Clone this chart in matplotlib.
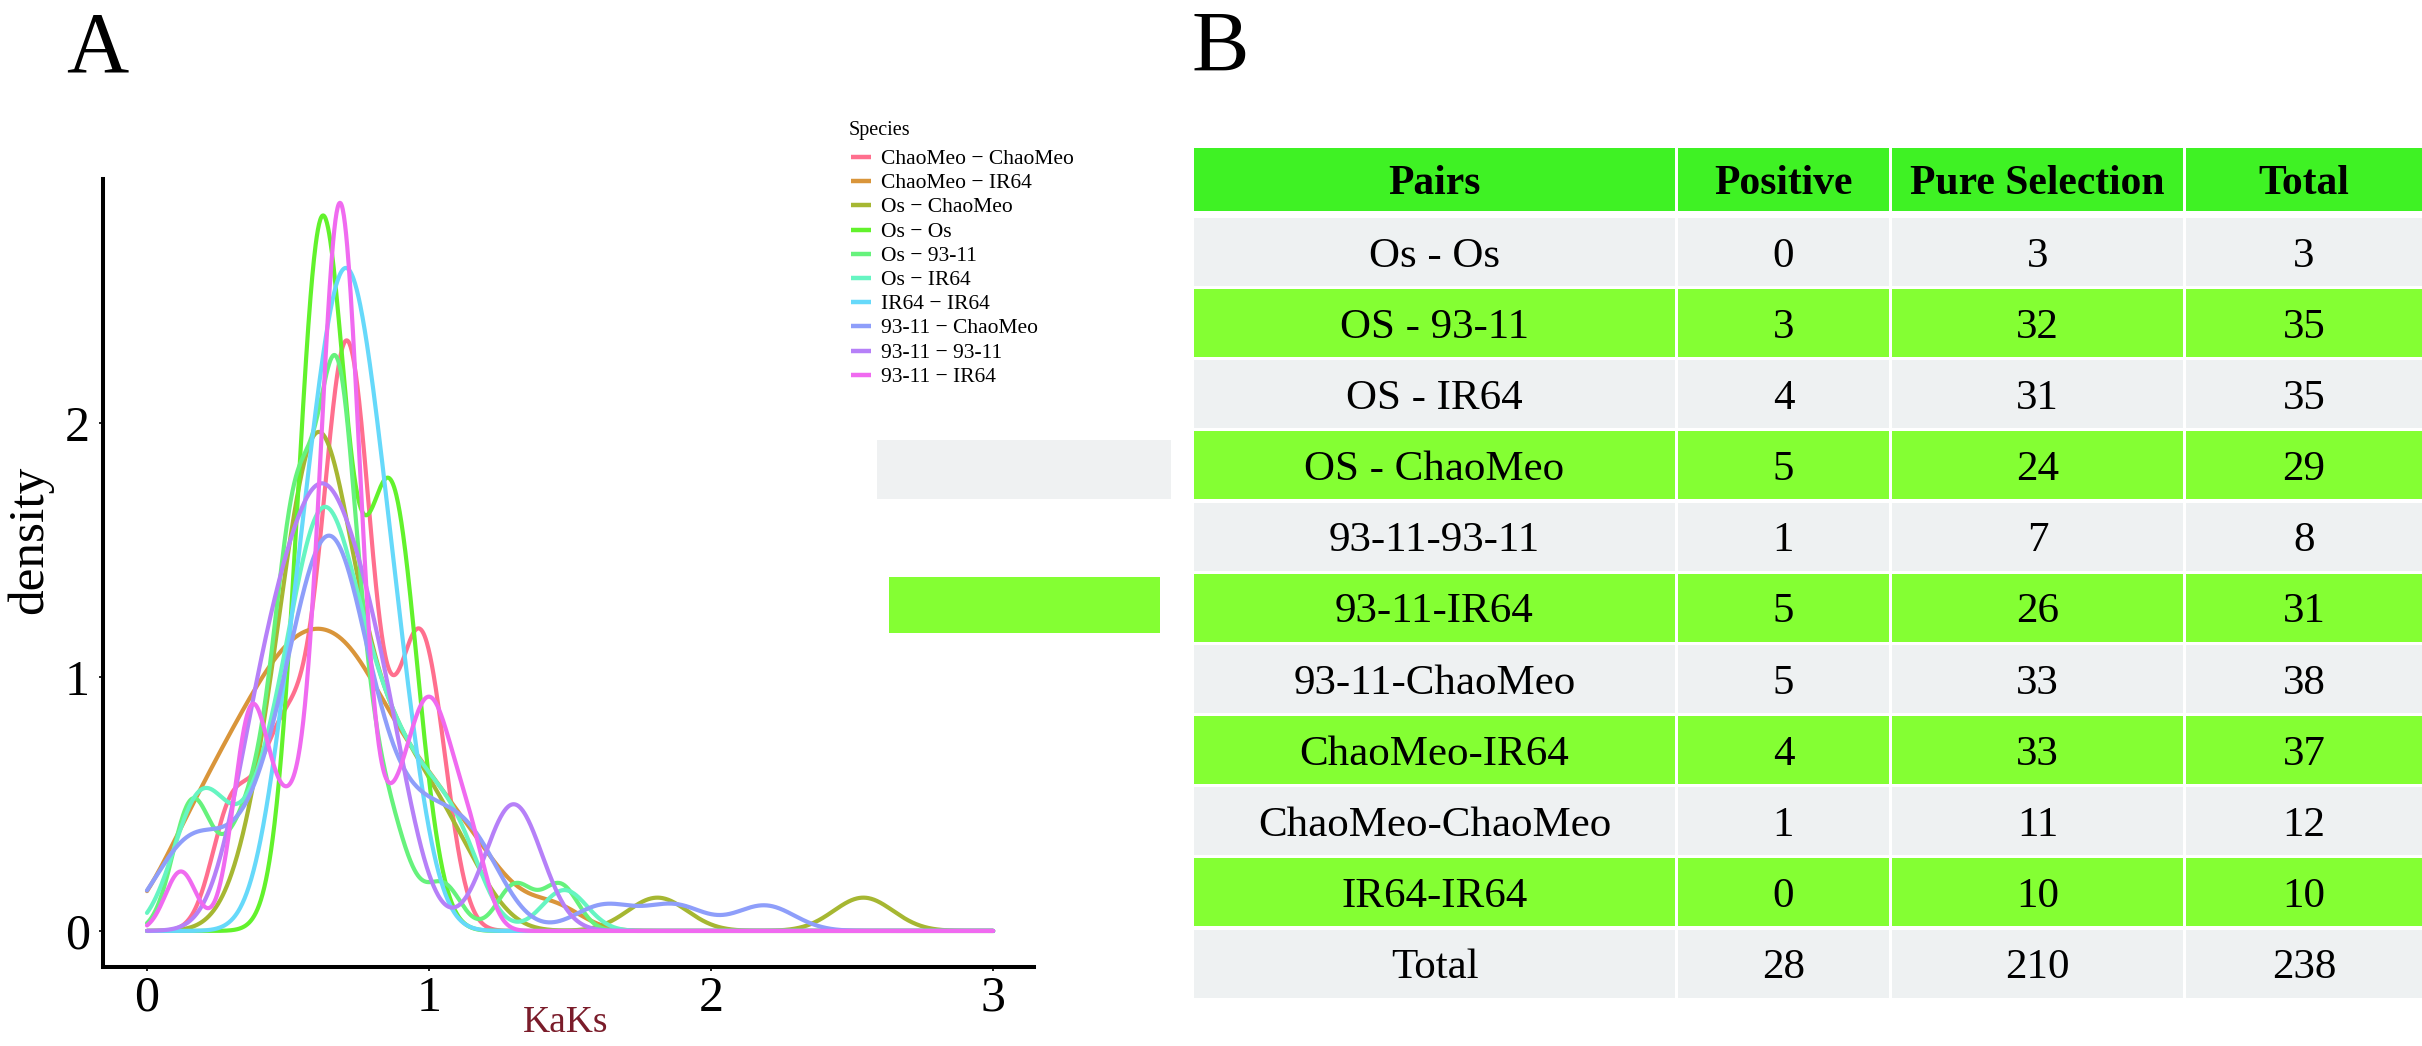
import numpy as np
import matplotlib
matplotlib.use("Agg")
import matplotlib.pyplot as plt
from matplotlib.patches import Rectangle

plt.rcParams['font.family'] = ['Liberation Serif', 'DejaVu Serif']

# ---------------- data: panel A (KaKs values per species pair) ----------------
species = ["ChaoMeo \u2212 ChaoMeo", "ChaoMeo \u2212 IR64", "Os \u2212 ChaoMeo", "Os \u2212 Os",
           "Os \u2212 93-11", "Os \u2212 IR64", "IR64 \u2212 IR64", "93-11 \u2212 ChaoMeo",
           "93-11 \u2212 93-11", "93-11 \u2212 IR64"]

kaks_chaomeo_chaomeo = [0.30, 0.44, 0.53, 0.63, 0.67, 0.70, 0.72, 0.745, 0.78, 0.91, 0.97, 1.02]
kaks_chaomeo_ir64 = [0.06, 0.13, 0.18, 0.22, 0.26, 0.29, 0.32, 0.35, 0.375, 0.40, 0.425, 0.45,
                     0.47, 0.49, 0.51, 0.53, 0.55, 0.57, 0.59, 0.61, 0.63, 0.65, 0.67, 0.69,
                     0.71, 0.73, 0.75, 0.77, 0.795, 0.82, 0.85, 0.88, 0.91, 0.945, 0.98, 1.02,
                     1.06, 1.11, 1.17, 1.25, 1.44]
kaks_os_chaomeo = [0.40, 0.44, 0.47, 0.51, 0.54, 0.56, 0.57, 0.58, 0.59, 0.60, 0.60, 0.61, 0.62,
                   0.63, 0.65, 0.67, 0.69, 0.72, 0.75, 0.78, 0.82, 0.86, 0.90, 0.95, 1.00, 1.06,
                   1.15, 1.81, 2.54]
kaks_os_os = [0.60, 0.62, 0.64, 0.83, 0.90]
kaks_os_9311 = [0.13, 0.16, 0.19, 0.30, 0.36, 0.41, 0.45, 0.48, 0.50, 0.51, 0.52, 0.53, 0.54,
                0.55, 0.56, 0.58, 0.63, 0.64, 0.65, 0.66, 0.665, 0.67, 0.68, 0.685, 0.69, 0.70,
                0.71, 0.72, 0.77, 0.80, 0.84, 0.90, 1.05, 1.305, 1.465]
kaks_os_ir64 = [0.12, 0.18, 0.21, 0.26, 0.36, 0.42, 0.46, 0.50, 0.52, 0.55, 0.57, 0.59, 0.60,
                0.61, 0.63, 0.65, 0.67, 0.69, 0.70, 0.72, 0.75, 0.78, 0.81, 0.84, 0.88, 0.92,
                0.97, 1.02, 1.08, 1.14, 1.48]
kaks_ir64_ir64 = [0.50, 0.57, 0.62, 0.665, 0.70, 0.71, 0.745, 0.79, 0.84, 0.91]
kaks_9311_chaomeo = [0.07, 0.13, 0.18, 0.23, 0.33, 0.40, 0.44, 0.48, 0.51, 0.53, 0.55, 0.57,
                     0.59, 0.61, 0.62, 0.63, 0.64, 0.65, 0.66, 0.67, 0.69, 0.70, 0.71, 0.73,
                     0.75, 0.78, 0.81, 0.85, 0.90, 0.96, 1.00, 1.05, 1.12, 1.16, 1.20,
                     1.62, 1.87, 2.19]
kaks_9311_9311 = [0.38, 0.48, 0.56, 0.62, 0.68, 0.76, 0.86, 1.30]
kaks_9311_ir64 = [0.12, 0.33, 0.36, 0.38, 0.40, 0.47, 0.53, 0.60, 0.62, 0.64, 0.65, 0.66,
                  0.67, 0.675, 0.68, 0.69, 0.695, 0.70, 0.71, 0.72, 0.735, 0.75, 0.78,
                  0.86, 0.92, 0.96, 0.99, 1.02, 1.05, 1.10, 1.16]

samples = [kaks_chaomeo_chaomeo, kaks_chaomeo_ir64, kaks_os_chaomeo, kaks_os_os, kaks_os_9311,
           kaks_os_ir64, kaks_ir64_ir64, kaks_9311_chaomeo, kaks_9311_9311, kaks_9311_ir64]
bandwidths = [0.07, 0.10, 0.105, 0.085, 0.063, 0.08, 0.09, 0.105, 0.10, 0.055]

x_ticks = [0, 1, 2, 3]
y_ticks = [0, 1, 2]

# ---------------- data: panel B (table) ----------------
headers = ["Pairs", "Positive", "Pure Selection", "Total"]
pairs = ["Os - Os", "OS - 93-11", "OS - IR64", "OS - ChaoMeo", "93-11-93-11", "93-11-IR64",
         "93-11-ChaoMeo", "ChaoMeo-IR64", "ChaoMeo-ChaoMeo", "IR64-IR64", "Total"]
positive = [0, 3, 4, 5, 1, 5, 5, 4, 1, 0, 28]
pure_selection = [3, 32, 31, 24, 7, 26, 33, 33, 11, 10, 210]
total = [3, 35, 35, 29, 8, 31, 38, 37, 12, 10, 238]

# ---------------- styles ----------------
colors = ['#FF6F8E', '#D9953A', '#A6B732', '#62F22C', '#66F27C', '#66F5C2',
          '#66D9FA', '#8E9EFA', '#B680F8', '#F06AF0']
W, H, DPI = 2422, 1046, 100

fig = plt.figure(figsize=(W / DPI, H / DPI), dpi=DPI)

# ---------------- panel A ----------------
ax = fig.add_axes([103 / W, 1 - 967 / H, (1034 - 103) / W, (967 - 179) / H])
grid = np.linspace(0, 3, 1501)
for name, col, bw, s in zip(species, colors, bandwidths, samples):
    s = np.asarray(s, dtype=float)
    dens = np.exp(-0.5 * ((grid[:, None] - s[None, :]) / bw) ** 2).sum(axis=1) / (len(s) * bw * np.sqrt(2 * np.pi))
    ax.plot(grid, dens, color=col, lw=3.0, solid_capstyle='round')

ax.set_xlim(-0.156, 3.145)
ax.set_ylim(-0.142, 2.96)
for sp in ['top', 'right']:
    ax.spines[sp].set_visible(False)
for sp in ['left', 'bottom']:
    ax.spines[sp].set_linewidth(2.9)
ax.set_xticks(x_ticks)
ax.set_yticks(y_ticks)
ax.tick_params(length=3, width=1.2, labelsize=36)
ax.tick_params(axis='x', pad=3)
ax.tick_params(axis='y', pad=6.5)
ax.set_xlabel('KaKs', fontsize=27, color='#7A1C2A')
ax.xaxis.set_label_coords((566 - 103) / 931, (967 - 1023) / 788)
ax.xaxis.label.set_va('center')
ax.set_ylabel('density', fontsize=37)
ax.yaxis.set_label_coords((30 - 103) / 931, (967 - 540) / 788)
ax.yaxis.label.set_va('center')

# ---------------- overlay (pixel coordinates) ----------------
ov = fig.add_axes([0, 0, 1, 1])
ov.set_xlim(0, W)
ov.set_ylim(H, 0)
ov.axis('off')

ov.text(66, 71, 'A', fontsize=62, va='baseline', ha='left')
ov.text(1192, 71, 'B', fontsize=62, va='baseline', ha='left')

# legend
ov.text(849, 135, 'Species', fontsize=14.5, va='baseline', ha='left')
for i, (name, col) in enumerate(zip(species, colors)):
    yc = 157 + i * 24.2
    ov.plot([851, 871], [yc, yc], color=col, lw=3.2, solid_capstyle='butt')
    ov.text(881, yc + 7, name, fontsize=15.5, va='baseline', ha='left')

# stray strips
ov.add_patch(Rectangle((877, 440), 294, 59, facecolor='#EFF1F2', lw=0))
ov.add_patch(Rectangle((889, 577), 271, 56, facecolor='#84FF33', lw=0))

# table
col_edges = [(1194, 1675), (1678, 1889), (1892, 2183), (2186, 2422)]
header_top, header_bot = 148, 211
row_top0, pitch, row_h = 218, 71.15, 68
for j, (x0, x1) in enumerate(col_edges):
    ov.add_patch(Rectangle((x0, header_top), x1 - x0, header_bot - header_top,
                           facecolor='#3FF224', lw=0))
    ov.text((x0 + x1) / 2, (header_top + header_bot) / 2, headers[j], fontsize=30,
            fontweight='bold', ha='center', va='center_baseline')

rows = list(zip(pairs, positive, pure_selection, total))
for i, row in enumerate(rows):
    y0 = row_top0 + i * pitch
    fc = '#EEF1F2' if i % 2 == 0 else '#84FF33'
    for j, (x0, x1) in enumerate(col_edges):
        ov.add_patch(Rectangle((x0, y0), x1 - x0, row_h, facecolor=fc, lw=0))
        ov.text((x0 + x1) / 2, y0 + row_h / 2, str(row[j]), fontsize=31,
                ha='center', va='center_baseline')

fig.savefig('out.png', dpi=DPI)
